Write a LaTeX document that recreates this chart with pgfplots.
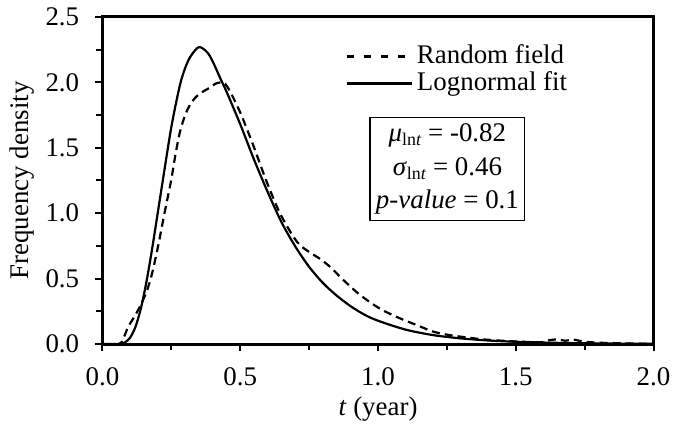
\documentclass[border=0pt]{standalone}
\usepackage{pgfplots}
\pgfplotsset{compat=1.18}
\usepackage{fontspec}
\setmainfont{Liberation Serif}
\pgfplotstableread{
x y
0 0
0.06 0
0.08 0.01
0.10 0.048
0.12 0.133
0.14 0.278
0.16 0.481
0.18 0.726
0.20 0.995
0.22 1.265
0.25 1.66
0.28 1.97
0.30 2.11
0.32 2.20
0.35 2.27
0.38 2.23
0.40 2.16
0.43 2.02
0.45 1.93
0.50 1.68
0.55 1.41
0.60 1.16
0.65 0.93
0.70 0.745
0.75 0.59
0.80 0.467
0.85 0.37
0.90 0.29
0.95 0.225
1.00 0.178
1.10 0.11
1.20 0.068
1.30 0.043
1.40 0.027
1.50 0.017
1.60 0.011
1.70 0.007
1.80 0.004
2.00 0.002
}\lognormal
\pgfplotstableread{
x y
0 0
0.06 0
0.075 0.04
0.093 0.13
0.113 0.2
0.133 0.275
0.16 0.40
0.18 0.54
0.203 0.76
0.225 1.0
0.249 1.25
0.265 1.45
0.281 1.62
0.30 1.75
0.318 1.83
0.34 1.89
0.365 1.93
0.39 1.96
0.41 1.99
0.43 2.00
0.445 1.99
0.463 1.93
0.50 1.77
0.547 1.52
0.596 1.24
0.644 1.0
0.693 0.82
0.72 0.75
0.753 0.70
0.79 0.65
0.826 0.59
0.874 0.49
0.935 0.375
1.007 0.27
1.08 0.196
1.14 0.145
1.20 0.095
1.26 0.068
1.37 0.038
1.45 0.025
1.55 0.015
1.60 0.015
1.62 0.028
1.65 0.035
1.68 0.025
1.71 0.034
1.74 0.02
1.80 0.01
1.90 0.005
2.00 0.0
}\randomfield
\begin{document}
\fontsize{13.5}{16}\selectfont
\begin{tikzpicture}
\begin{axis}[
  scale only axis,
  width=275.5bp, height=163.5bp,
  xmin=0, xmax=2, ymin=0, ymax=2.5,
  xtick={0,0.5,...,2}, ytick={0,0.5,...,2.5},
  minor tick num=1,
  tick align=outside,
  xtick pos=bottom, ytick pos=left,
  major tick length=3.5bp, minor tick length=3bp,
  every tick/.style={line width=1bp, black},
  axis line style={line width=1.5bp},
  xticklabel shift=3.5bp, yticklabel shift=3.5bp,
  xlabel shift=-3.5bp, ylabel shift=-3.5bp,
  /pgf/number format/assume math mode=true,
  /pgf/number format/.cd, fixed, fixed zerofill, precision=1, /pgfplots/.cd,
  xlabel={\textit{t} (year)},
  ylabel={Frequency density},
  legend style={draw=none, fill=none, at={(rel axis cs:0.43,0.94)}, anchor=north west,
    row sep=-2bp, cells={anchor=west}, font=\fontsize{13.5}{16}\selectfont},
  legend image code/.code={\draw[#1] (0bp,0bp) -- (32.5bp,0bp);},
]
\addplot[black, line width=1.1bp, dash pattern=on 4bp off 2.5bp, smooth, tension=0.5,
  legend image post style={dash pattern=on 3.5bp off 5bp}] table {\randomfield};
\addlegendentry{Random field}
\addplot[black, line width=1.1bp, smooth, tension=0.5] table {\lognormal};
\addlegendentry{Lognormal fit}
\node[draw, line width=0.6bp, align=center, inner sep=3bp, font=\fontsize{13.5}{17}\selectfont] at (axis cs:1.252,1.338)
 {\textit{μ}\raisebox{-0.35ex}{\fontsize{9}{10}\selectfont ln\textit{t}} = -0.82\\
  \textit{σ}\raisebox{-0.35ex}{\fontsize{9}{10}\selectfont ln\textit{t}} = 0.46\\
  \textit{p-value} = 0.1};
\end{axis}
\pgfresetboundingbox
\path ([shift={(-51.25bp,-42bp)}]current axis.south west) rectangle ([shift={(285.25bp,172bp)}]current axis.south west);
\end{tikzpicture}
\end{document}
